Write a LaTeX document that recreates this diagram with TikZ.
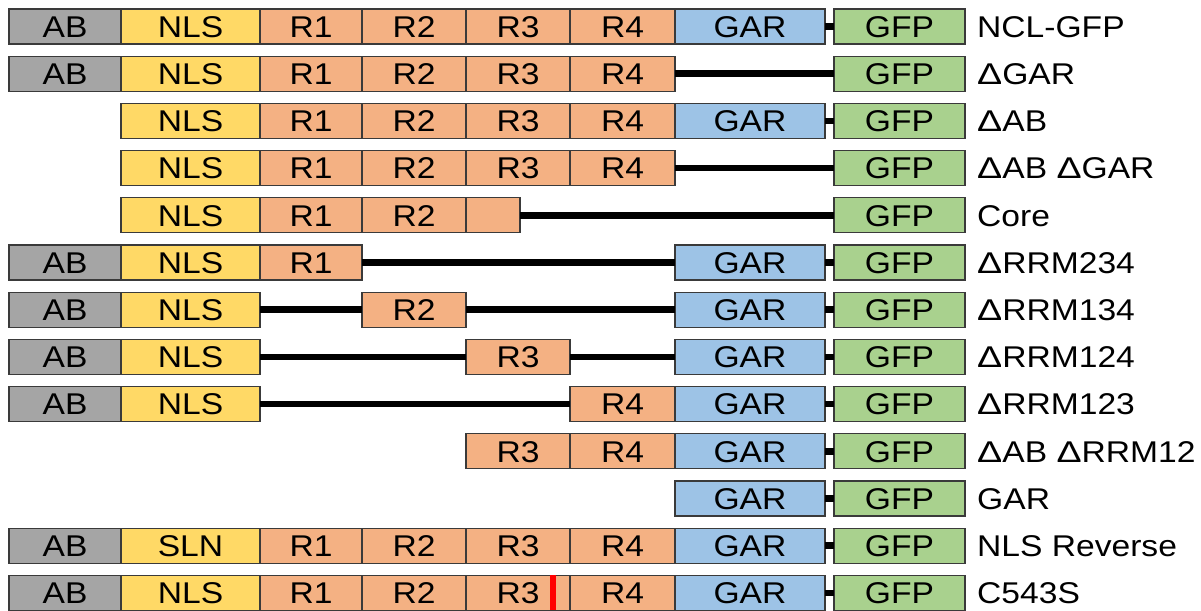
\documentclass[tikz,border=0pt]{standalone}
\usepackage{fontspec}
\setmainfont{Liberation Sans}[FakeStretch=1.12]
\definecolor{cab}{HTML}{A5A5A5}
\definecolor{cnls}{HTML}{FFD966}
\definecolor{crr}{HTML}{F4B183}
\definecolor{cgar}{HTML}{9DC3E6}
\definecolor{cgfp}{HTML}{A9D18E}
\definecolor{bordercol}{HTML}{3A3A3A}
\newcommand\D{\scalebox{1.12}[1]{Δ}}
\newcommand\bx[5]{%
  \pgfmathsetmacro\bxw{#3-#2}\pgfmathsetmacro\bxc{(#2+#3)/2}%
  \node[box,fill=#4,minimum width=\bxw pt] (#1) at (\bxc,\ry) {#5};}
\newcommand\lbl[2]{\node[lab] (#1) at (977,\ry) {#2};}
\begin{document}
\begin{tikzpicture}[x=1pt,y=-1pt,
  box/.style={draw=bordercol, line width=1.2pt, inner sep=0pt, outer sep=0pt,
    minimum height=35pt, text height=21.5pt, text depth=0pt,
    font=\fontsize{30}{30}\selectfont},
  lab/.style={anchor=west, inner sep=0pt, text height=21.5pt, text depth=0pt,
    font=\fontsize{30}{30}\selectfont},
  link/.style={line width=6.5pt, black}]
\useasboundingbox (0,0) rectangle (1201,610);
% row 0
\def\ry{26.5}
\bx{a0}{9}{121}{cab}{AB}\bx{n0}{121}{260}{cnls}{NLS}
\bx{p0}{260}{362}{crr}{R1}\bx{q0}{362}{466}{crr}{R2}\bx{s0}{466}{570}{crr}{R3}\bx{t0}{570}{675}{crr}{R4}
\bx{g0}{675}{825}{cgar}{GAR}\bx{f0}{834}{965}{cgfp}{GFP}
\draw[link] (g0.east) -- (f0.west);
\lbl{l0}{NCL-GFP}
% row 1
\def\ry{73.7}
\bx{a1}{9}{121}{cab}{AB}\bx{n1}{121}{260}{cnls}{NLS}
\bx{p1}{260}{362}{crr}{R1}\bx{q1}{362}{466}{crr}{R2}\bx{s1}{466}{570}{crr}{R3}\bx{t1}{570}{675}{crr}{R4}
\bx{f1}{834}{965}{cgfp}{GFP}
\draw[link] (t1.east) -- (f1.west);
\lbl{l1}{\D GAR}
% row 2
\def\ry{120.9}
\bx{n2}{121}{260}{cnls}{NLS}
\bx{p2}{260}{362}{crr}{R1}\bx{q2}{362}{466}{crr}{R2}\bx{s2}{466}{570}{crr}{R3}\bx{t2}{570}{675}{crr}{R4}
\bx{g2}{675}{825}{cgar}{GAR}\bx{f2}{834}{965}{cgfp}{GFP}
\draw[link] (g2.east) -- (f2.west);
\lbl{l2}{\D AB}
% row 3
\def\ry{168.1}
\bx{n3}{121}{260}{cnls}{NLS}
\bx{p3}{260}{362}{crr}{R1}\bx{q3}{362}{466}{crr}{R2}\bx{s3}{466}{570}{crr}{R3}\bx{t3}{570}{675}{crr}{R4}
\bx{f3}{834}{965}{cgfp}{GFP}
\draw[link] (t3.east) -- (f3.west);
\lbl{l3}{\D AB \D GAR}
% row 4
\def\ry{215.3}
\bx{n4}{121}{260}{cnls}{NLS}
\bx{p4}{260}{362}{crr}{R1}\bx{q4}{362}{466}{crr}{R2}\bx{s4}{466}{520}{crr}{}
\bx{f4}{834}{965}{cgfp}{GFP}
\draw[link] (s4.east) -- (f4.west);
\lbl{l4}{Core}
% row 5
\def\ry{262.5}
\bx{a5}{9}{121}{cab}{AB}\bx{n5}{121}{260}{cnls}{NLS}
\bx{p5}{260}{362}{crr}{R1}
\bx{g5}{675}{825}{cgar}{GAR}\bx{f5}{834}{965}{cgfp}{GFP}
\draw[link] (p5.east) -- (g5.west);
\draw[link] (g5.east) -- (f5.west);
\lbl{l5}{\D RRM234}
% row 6
\def\ry{309.7}
\bx{a6}{9}{121}{cab}{AB}\bx{n6}{121}{260}{cnls}{NLS}
\bx{q6}{362}{466}{crr}{R2}
\bx{g6}{675}{825}{cgar}{GAR}\bx{f6}{834}{965}{cgfp}{GFP}
\draw[link] (n6.east) -- (q6.west);
\draw[link] (q6.east) -- (g6.west);
\draw[link] (g6.east) -- (f6.west);
\lbl{l6}{\D RRM134}
% row 7
\def\ry{356.9}
\bx{a7}{9}{121}{cab}{AB}\bx{n7}{121}{260}{cnls}{NLS}
\bx{s7}{466}{570}{crr}{R3}
\bx{g7}{675}{825}{cgar}{GAR}\bx{f7}{834}{965}{cgfp}{GFP}
\draw[link] (n7.east) -- (s7.west);
\draw[link] (s7.east) -- (g7.west);
\draw[link] (g7.east) -- (f7.west);
\lbl{l7}{\D RRM124}
% row 8
\def\ry{404.1}
\bx{a8}{9}{121}{cab}{AB}\bx{n8}{121}{260}{cnls}{NLS}
\bx{t8}{570}{675}{crr}{R4}
\bx{g8}{675}{825}{cgar}{GAR}\bx{f8}{834}{965}{cgfp}{GFP}
\draw[link] (n8.east) -- (t8.west);
\draw[link] (g8.east) -- (f8.west);
\lbl{l8}{\D RRM123}
% row 9
\def\ry{451.3}
\bx{s9}{466}{570}{crr}{R3}\bx{t9}{570}{675}{crr}{R4}
\bx{g9}{675}{825}{cgar}{GAR}\bx{f9}{834}{965}{cgfp}{GFP}
\draw[link] (g9.east) -- (f9.west);
\lbl{l9}{\D AB \D RRM12}
% row 10
\def\ry{498.5}
\bx{g10}{675}{825}{cgar}{GAR}\bx{f10}{834}{965}{cgfp}{GFP}
\draw[link] (g10.east) -- (f10.west);
\lbl{l10}{GAR}
% row 11
\def\ry{545.7}
\bx{a11}{9}{121}{cab}{AB}\bx{n11}{121}{260}{cnls}{SLN}
\bx{p11}{260}{362}{crr}{R1}\bx{q11}{362}{466}{crr}{R2}\bx{s11}{466}{570}{crr}{R3}\bx{t11}{570}{675}{crr}{R4}
\bx{g11}{675}{825}{cgar}{GAR}\bx{f11}{834}{965}{cgfp}{GFP}
\draw[link] (g11.east) -- (f11.west);
\lbl{l11}{NLS Reverse}
% row 12
\def\ry{592.9}
\bx{a12}{9}{121}{cab}{AB}\bx{n12}{121}{260}{cnls}{NLS}
\bx{p12}{260}{362}{crr}{R1}\bx{q12}{362}{466}{crr}{R2}\bx{s12}{466}{570}{crr}{R3}\bx{t12}{570}{675}{crr}{R4}
\bx{g12}{675}{825}{cgar}{GAR}\bx{f12}{834}{965}{cgfp}{GFP}
\draw[link] (g12.east) -- (f12.west);
\node[fill=red, inner sep=0pt, minimum width=6pt, minimum height=35pt] (m12) at (553,\ry) {};
\lbl{l12}{C543S}
\end{tikzpicture}
\end{document}
